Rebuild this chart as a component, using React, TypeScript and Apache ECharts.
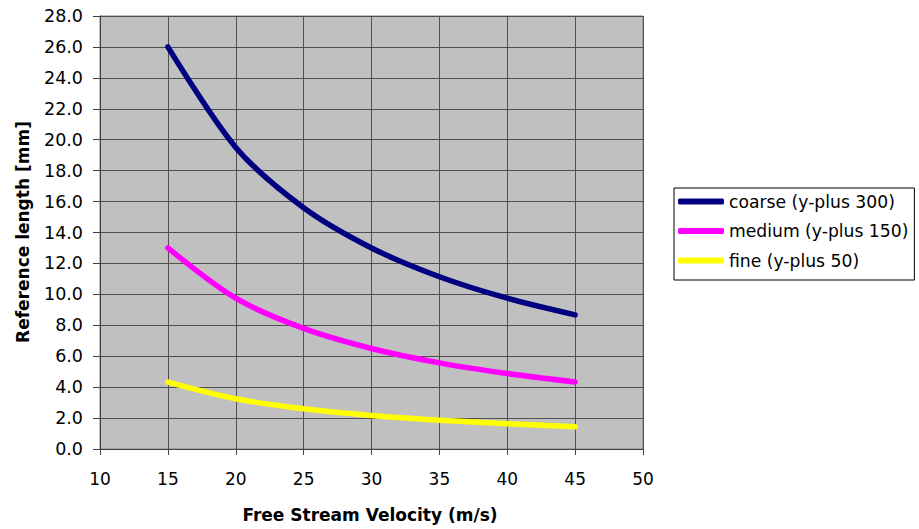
import React, { useEffect, useRef } from "react";
import * as echarts from "echarts";

// Free stream velocity (m/s) sampled every 5 m/s
const velocities = [15, 20, 25, 30, 35, 40, 45];

// Reference length [mm] per mesh resolution
const coarse = [26.0, 19.5, 15.6, 13.0, 11.14, 9.75, 8.67];
const medium = [13.0, 9.75, 7.8, 6.5, 5.57, 4.88, 4.33];
const fine = [4.33, 3.25, 2.6, 2.17, 1.86, 1.63, 1.44];

const seriesNames = ["coarse (y-plus 300)", "medium (y-plus 150)", "fine (y-plus 50)"];
const seriesColors = ["#000080", "#ff00ff", "#ffff00"];

const xTitle = "Free Stream Velocity (m/s)";
const yTitle = "Reference length [mm]";

const FONT = "DejaVu Sans, Verdana, sans-serif";

export default function App() {
  const ref = useRef<HTMLDivElement>(null);

  useEffect(() => {
    if (!ref.current) return;
    const chart = echarts.init(ref.current, null, { renderer: "svg" });
    const datasets = [coarse, medium, fine];

    chart.setOption({
      animation: false,
      backgroundColor: "#ffffff",
      textStyle: { fontFamily: FONT },
      grid: {
        left: 100,
        top: 16,
        width: 543,
        height: 433,
        show: true,
        backgroundColor: "#c0c0c0",
        borderColor: "#808080",
        borderWidth: 1,
      },
      legend: {
        orient: "vertical",
        left: 674,
        top: 188,
        padding: [5, 6, 11, 4],
        itemGap: 12.5,
        itemWidth: 46,
        itemHeight: 6,
        icon: "roundRect",
        backgroundColor: "#ffffff",
        borderColor: "#000000",
        borderWidth: 1,
        borderRadius: 0,
        textStyle: { fontSize: 17.2, color: "#000000", fontFamily: FONT },
        data: seriesNames,
      },
      xAxis: {
        type: "value",
        min: 10,
        max: 50,
        interval: 5,
        axisLine: { show: true, onZero: false, lineStyle: { color: "#404040", width: 1 } },
        axisTick: { show: true, inside: false, length: 6, lineStyle: { color: "#404040" } },
        axisLabel: { fontSize: 17, color: "#000000", margin: 21, fontFamily: FONT },
        splitLine: { show: true, lineStyle: { color: "#505050", width: 1 } },
      },
      yAxis: {
        type: "value",
        min: 0,
        max: 28,
        interval: 2,
        axisLine: { show: true, lineStyle: { color: "#404040", width: 1 } },
        axisTick: { show: true, inside: false, length: 7, lineStyle: { color: "#404040" } },
        axisLabel: {
          fontSize: 17.5,
          color: "#000000",
          margin: 17,
          fontFamily: FONT,
          formatter: (v: number) => v.toFixed(1),
        },
        splitLine: { show: true, lineStyle: { color: "#505050", width: 1 } },
      },
      graphic: [
        {
          type: "text",
          x: 370,
          y: 515,
          style: {
            text: xTitle,
            fontSize: 17,
            fontWeight: "bold",
            fontFamily: FONT,
            fill: "#000000",
            align: "center",
            verticalAlign: "middle",
          },
        },
        {
          type: "text",
          x: 23,
          y: 232,
          rotation: Math.PI / 2,
          style: {
            text: yTitle,
            fontSize: 17,
            fontWeight: "bold",
            fontFamily: FONT,
            fill: "#000000",
            align: "center",
            verticalAlign: "middle",
          },
        },
      ],
      series: datasets.map((vals, i) => ({
        name: seriesNames[i],
        type: "line",
        data: velocities.map((v, j) => [v, vals[j]]),
        smooth: 0.3,
        symbol: "none",
        color: seriesColors[i],
        lineStyle: { width: 5.5, color: seriesColors[i], cap: "round", join: "round" },
      })),
    });

    return () => chart.dispose();
  }, []);

  return (
    <div
      ref={ref}
      style={{ position: "fixed", left: 0, top: 0, width: 919, height: 529 }}
    />
  );
}
